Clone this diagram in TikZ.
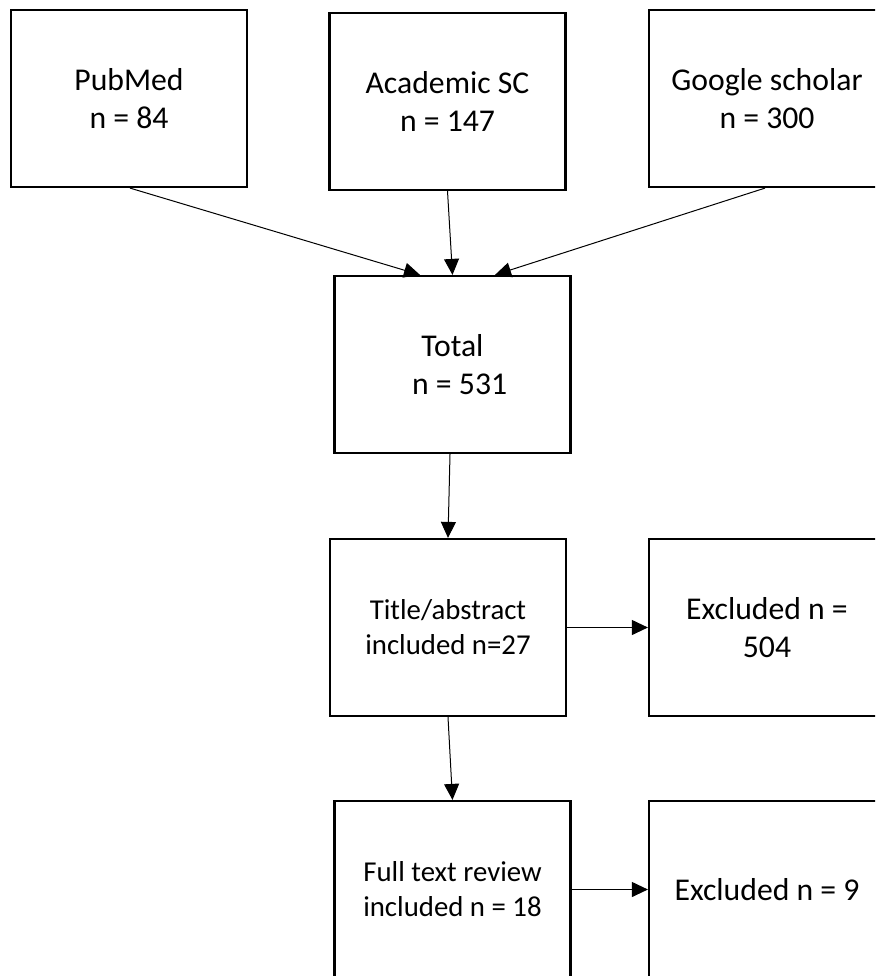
\documentclass[tikz,border=0pt]{standalone}
\usepackage{fontspec}
\setmainfont{Carlito}
\usetikzlibrary{arrows.meta}
\tikzset{
  box/.style={draw=black, line width=2.2pt, fill=white, inner sep=0pt,
    minimum width=236pt, minimum height=177pt, align=center},
  bigtxt/.style={font=\fontsize{31.7}{38.5}\selectfont},
  smalltxt/.style={font=\fontsize{28.8}{35}\selectfont},
  conn/.style={draw=black, line width=1pt, -{Triangle[length=16pt,width=15pt]}}
}
\begin{document}
\begin{tikzpicture}[x=1pt,y=-1pt]
\useasboundingbox (0,0) rectangle (875,976);
\clip (0,0) rectangle (875,976);
\fill[white] (0,0) rectangle (875,976);
\node[box,bigtxt] (pub) at (129,98.5) {PubMed\\n = 84};
\node[box,bigtxt] (acad) at (447.5,101.5) {Academic SC\\n = 147};
\node[box,bigtxt] (goog) at (767,98.5) {Google scholar\\n = 300};
\node[box,bigtxt] (tot) at (452.5,364.5) {Total\\\ \ n = 531};
\node[box,smalltxt] (title) at (448,627.5) {Title/abstract\\included n=27};
\node[box,bigtxt] (ex1) at (767,627.5) {Excluded n =\\504};
\node[box,smalltxt] (full) at (452.5,889.5) {Full text review\\included n = 18};
\node[box,bigtxt] (ex2) at (767,889.5) {Excluded n = 9};
\draw[conn] ([xshift=1pt]pub.south) -- ([xshift=-32.5pt]tot.north);
\draw[conn] (acad.south) -- (tot.north);
\draw[conn] ([xshift=-2pt]goog.south) -- ([xshift=42.5pt]tot.north);
\draw[conn] ([xshift=-2.5pt]tot.south) -- (title.north);
\draw[conn] (title.east) -- (ex1.west);
\draw[conn] (title.south) -- (full.north);
\draw[conn] (full.east) -- (ex2.west);
\end{tikzpicture}
\end{document}
